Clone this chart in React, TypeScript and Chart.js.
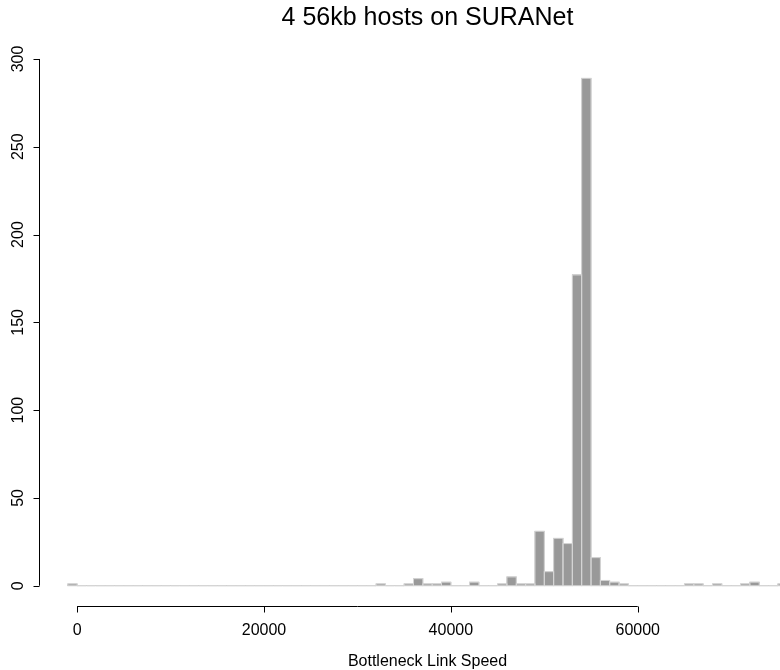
import React, { useEffect, useRef } from "react";
import { Chart, registerables } from "chart.js";

Chart.register(...registerables);

// Histogram bins: left edge of each 1000-wide bin and its count
const binWidth = 1000;
const binStarts: number[] = [];
for (let b = -1000; b <= 75000; b += binWidth) binStarts.push(b);

const binCounts: number[] = [
  1, // -1000
  0, 0, 0, 0, 0, 0, 0, 0, 0, 0, // 0 .. 9000
  0, 0, 0, 0, 0, 0, 0, 0, 0, 0, // 10000 .. 19000
  0, 0, 0, 0, 0, 0, 0, 0, 0, 0, // 20000 .. 29000
  0, 0, 1, 0, 0, 1, 4, 1, 1, 2, // 30000 .. 39000
  0, 0, 2, 0, 0, 1, 5, 1, 1, 31, // 40000 .. 49000
  8, 27, 24, 177, 289, 16, 3, 2, 1, 0, // 50000 .. 59000
  0, 0, 0, 0, 0, 1, 1, 0, 1, 0, // 60000 .. 69000
  0, 1, 2, 0, 0, 1, // 70000 .. 75000
];

const xTicks = [0, 20000, 40000, 60000];
const yTicks = [0, 50, 100, 150, 200, 250, 300];

const titleText = "4 56kb hosts on SURANet";
const xLabel = "Bottleneck Link Speed";

const FONT = "'Liberation Sans', Arial, Helvetica, sans-serif";

// R-style axes, bin outlines, title and axis label
const rStylePlugin = {
  id: "rStyle",
  afterDatasetsDraw(chart: any) {
    const ctx = chart.ctx;
    const meta = chart.getDatasetMeta(0);
    ctx.save();
    ctx.strokeStyle = "#d6d6d6";
    ctx.lineWidth = 1;
    meta.data.forEach((el: any) => {
      const { x, y, base, width } = el.getProps(["x", "y", "base", "width"], true);
      const left = x - width / 2;
      ctx.strokeRect(left, Math.min(y, base), width, Math.abs(base - y));
    });
    ctx.restore();
  },
  afterDraw(chart: any) {
    const ctx = chart.ctx;
    const area = chart.chartArea;
    const xs = chart.scales.x;
    const ys = chart.scales.y;
    ctx.save();
    ctx.strokeStyle = "#000";
    ctx.fillStyle = "#000";
    ctx.lineWidth = 1;

    // y axis
    const ax = Math.round(area.left) + 0.5;
    const yTop = ys.getPixelForValue(yTicks[yTicks.length - 1]);
    const yBot = ys.getPixelForValue(yTicks[0]);
    ctx.beginPath();
    ctx.moveTo(ax, yTop);
    ctx.lineTo(ax, yBot);
    yTicks.forEach((t) => {
      const py = Math.round(ys.getPixelForValue(t)) + 0.5;
      ctx.moveTo(ax - 6, py);
      ctx.lineTo(ax, py);
    });
    ctx.stroke();
    ctx.font = `16px ${FONT}`;
    ctx.textAlign = "center";
    ctx.textBaseline = "alphabetic";
    yTicks.forEach((t) => {
      const py = ys.getPixelForValue(t);
      ctx.save();
      ctx.translate(23, py);
      ctx.rotate(-Math.PI / 2);
      ctx.fillText(String(t), 0, 0);
      ctx.restore();
    });

    // x axis
    const ay = Math.round(area.bottom) + 0.5;
    const xL = xs.getPixelForValue(xTicks[0]);
    const xR = xs.getPixelForValue(xTicks[xTicks.length - 1]);
    ctx.beginPath();
    ctx.moveTo(xL, ay);
    ctx.lineTo(xR, ay);
    xTicks.forEach((t) => {
      const px = Math.round(xs.getPixelForValue(t)) + 0.5;
      ctx.moveTo(px, ay);
      ctx.lineTo(px, ay + 6);
    });
    ctx.stroke();
    xTicks.forEach((t) => {
      ctx.fillText(String(t), xs.getPixelForValue(t), 635);
    });

    const cx = (area.left + area.right) / 2;
    ctx.font = `16px ${FONT}`;
    ctx.fillText(xLabel, cx, 666);

    ctx.font = `25px ${FONT}`;
    ctx.fillText(titleText, cx, 25);
    ctx.restore();
  },
};

export default function App() {
  const canvasRef = useRef<HTMLCanvasElement | null>(null);

  useEffect(() => {
    const canvas = canvasRef.current;
    if (!canvas) return;
    const chart = new Chart(canvas, {
      type: "bar",
      data: {
        datasets: [
          {
            data: binStarts.map((s, i) => ({ x: s + binWidth / 2, y: binCounts[i] })),
            backgroundColor: "#999999",
            borderWidth: 0,
            barPercentage: 1,
            categoryPercentage: 1,
          },
        ],
      },
      options: {
        responsive: false,
        animation: false,
        layout: { padding: { left: 39, top: 58, right: 44, bottom: 64 } },
        plugins: {
          legend: { display: false },
          tooltip: { enabled: false },
          title: { display: false },
        },
        scales: {
          x: {
            type: "linear",
            min: -4080,
            max: 79080,
            offset: false,
            display: false,
          },
          y: {
            type: "linear",
            min: -11.56,
            max: 300.56,
            display: false,
          },
        },
      },
      plugins: [rStylePlugin],
    });
    return () => chart.destroy();
  }, []);

  return (
    <div
      style={{
        position: "absolute",
        left: 0,
        top: 0,
        width: 780,
        height: 670,
        overflow: "hidden",
        background: "#fff",
      }}
    >
      <canvas ref={canvasRef} width={860} height={670} style={{ display: "block" }} />
    </div>
  );
}
